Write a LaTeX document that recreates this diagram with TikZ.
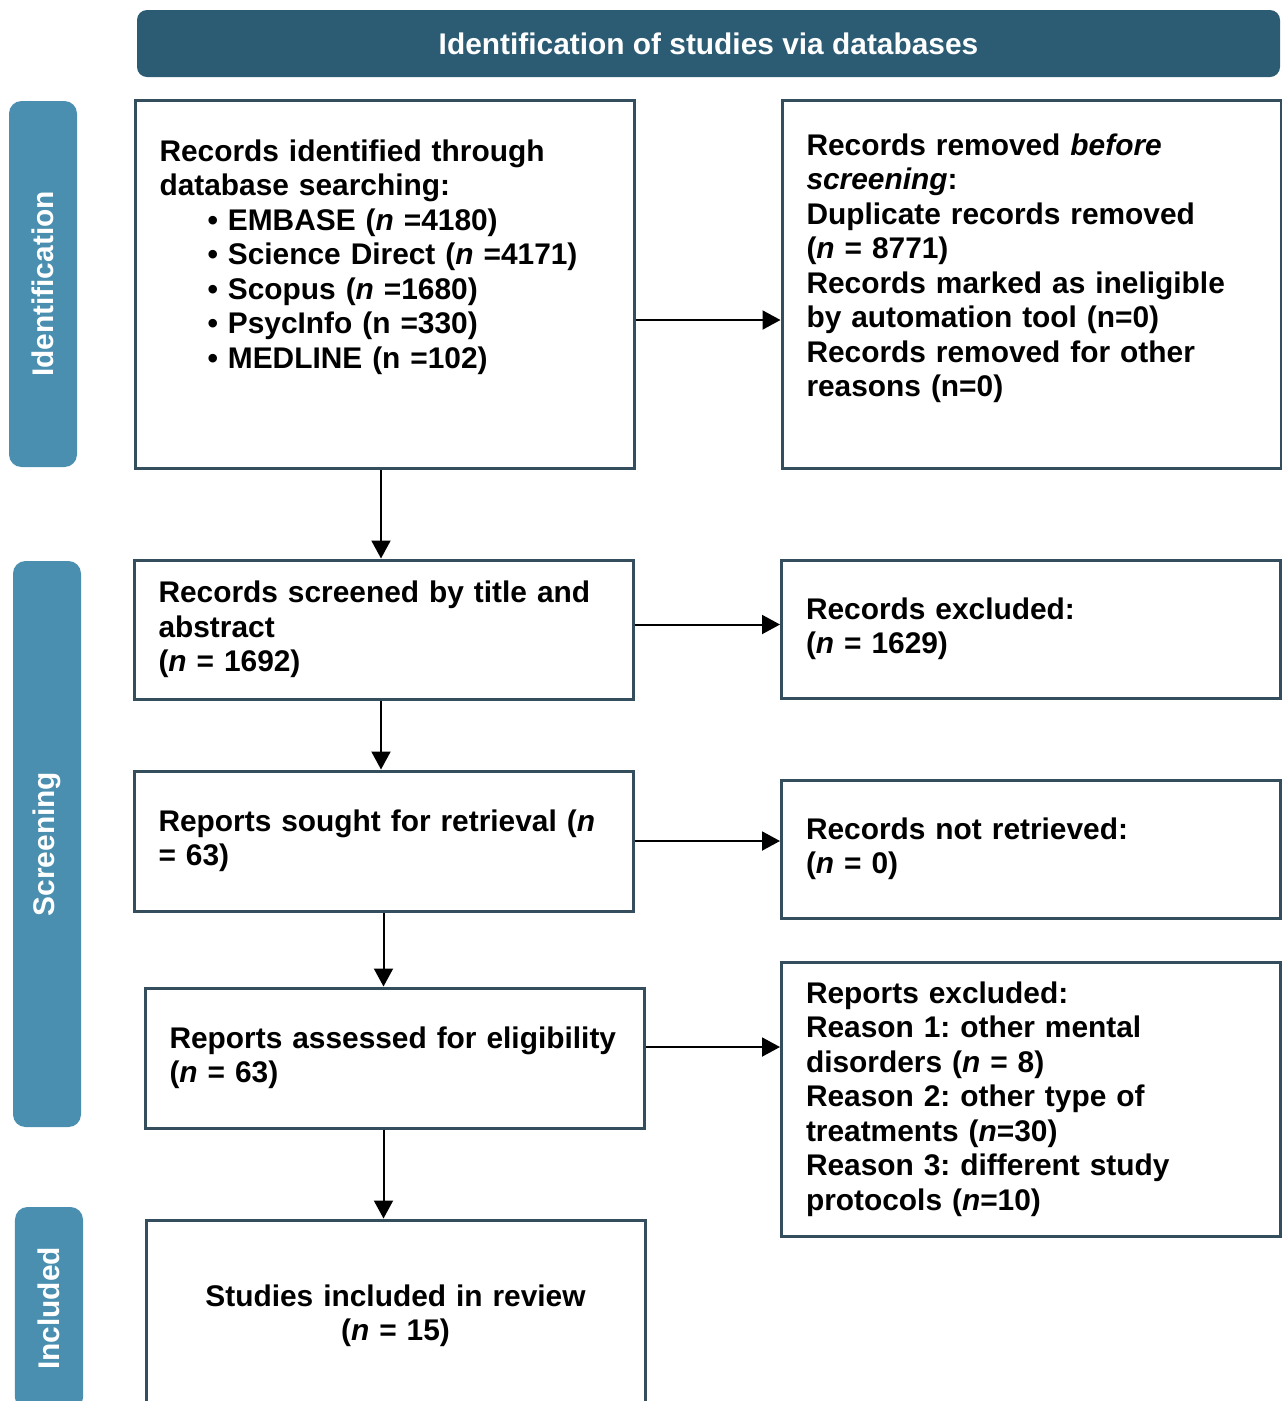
\documentclass[tikz,border=0pt]{standalone}
\usepackage{fontspec}
\setmainfont{Liberation Sans}
\usepackage{tikz}
\usetikzlibrary{positioning}
\usetikzlibrary{arrows.meta}
\definecolor{bannerblue}{RGB}{44,92,116}
\definecolor{phaseblue}{RGB}{74,143,176}
\definecolor{boxedge}{RGB}{52,78,94}
\frenchspacing

\begin{document}
\begin{tikzpicture}[
            > = {Triangle[length=0.36cm, width=0.38cm]}, % arrow head style
            line width = 0.04cm, % arrow line
            font = \fontsize{17pt}{19.6pt}\selectfont\bfseries
        ]

        \tikzstyle{rec}=[
            draw = boxedge,
            line width = 0.06cm,
            fill = white,
            text width = 9.0cm,
            inner xsep = 0.49cm,
            align = left
        ]
        \tikzstyle{phase}=[
            fill = phaseblue,
            rounded corners = 0.25cm,
            text = white,
            rotate = 90,
            minimum height = 1.36cm
        ]

        \useasboundingbox (0,0) rectangle (25.64,-28.02);
        \clip (0,0) rectangle (25.64,-28.02);

        % header
        \node[fill = bannerblue, rounded corners = 0.2cm, text = white,
              minimum width = 22.86cm, minimum height = 1.34cm]
              (HEAD) at (14.17,-0.87) {Identification of studies via databases};

        % phases
        \node[phase, minimum width = 7.32cm] (PI) at (0.86,-5.68) {Identification};
        \node[phase, minimum width = 11.32cm] (PS) at (0.94,-16.88) {Screening};
        \node[phase, minimum width = 4.06cm] (PC) at (0.98,-26.17) {Included};

        % identification
        \node[rec, minimum height = 7.36cm] (ID) at (7.69,-5.68) {Records identified through\\
            database searching:\\
            \hspace*{0.96cm}• EMBASE (\textit{n} =4180)\\
            \hspace*{0.96cm}• Science Direct (\textit{n} =4171)\\
            \hspace*{0.96cm}• Scopus (\textit{n} =1680)\\
            \hspace*{0.96cm}• PsycInfo (n =330)\\
            \hspace*{0.96cm}• MEDLINE (n =102)\rule[-1.2cm]{0pt}{0pt}};
        \node[rec, minimum height = 7.36cm] (RM) at (20.63,-5.68) {Records removed \textit{before}\\
            \textit{screening}:\\
            Duplicate records removed\\
            (\textit{n} = 8771)\\
            Records marked as ineligible\\
            by automation tool (n=0)\\
            Records removed for other\\
            reasons (n=0)\rule[-0.75cm]{0pt}{0pt}};

        \path[->] (ID.east) ++(0,-0.72) coordinate (a1) edge (a1 -| RM.west);

        % screening
        \node[rec, minimum height = 2.78cm] (SC) at (7.67,-12.59) {Records screened by title and\\
            abstract\\
            (\textit{n} = 1692)};
        \node[rec, minimum height = 2.76cm] (EX) at (20.62,-12.58) {Records excluded:\\
            (\textit{n} = 1629)};

        \node[rec, minimum height = 2.8cm] (SO) at (7.67,-16.82) {Reports sought for retrieval (\textit{n}\\
            = 63)};
        \node[rec, minimum height = 2.76cm] (NR) at (20.62,-16.98) {Records not retrieved:\\
            (\textit{n} = 0)};

        \node[rec, minimum height = 2.8cm] (AS) at (7.89,-21.16) {Reports assessed for \mbox{eligibility}\\
            (\textit{n} = 63)};
        \node[rec, minimum height = 5.48cm] (RE) at (20.62,-21.98) {Reports excluded:\\
            Reason 1: other mental\\
            disorders (\textit{n} = 8)\\
            Reason 2: other type of\\
            treatments (\textit{n}=30)\\
            Reason 3: different study\\
            protocols (\textit{n}=10)};

        % included
        \node[rec, align = center, minimum height = 3.84cm] (IN) at (7.91,-26.32) {Studies included in review\\
            (\textit{n} = 15)};

        \coordinate (v1) at ([xshift=-0.07cm]ID.south);
        \draw[->] (v1) -- (v1 |- SC.north);
        \coordinate (a3) at ([yshift=0.1cm]SC.east);
        \draw[->] (a3) -- (a3 -| EX.west);
        \draw[->] (v1 |- SC.south) -- (v1 |- SO.north);
        \draw[->] (SO.east) -- (SO.east -| NR.west);
        \draw[->] (SO.south) -- (SO.south |- AS.north);
        \coordinate (a7) at ([yshift=0.22cm]AS.east);
        \draw[->] (a7) -- (a7 -| RE.west);
        \draw[->] (AS.south -| SO.south) -- (IN.north -| SO.south);

\end{tikzpicture}
\end{document}
